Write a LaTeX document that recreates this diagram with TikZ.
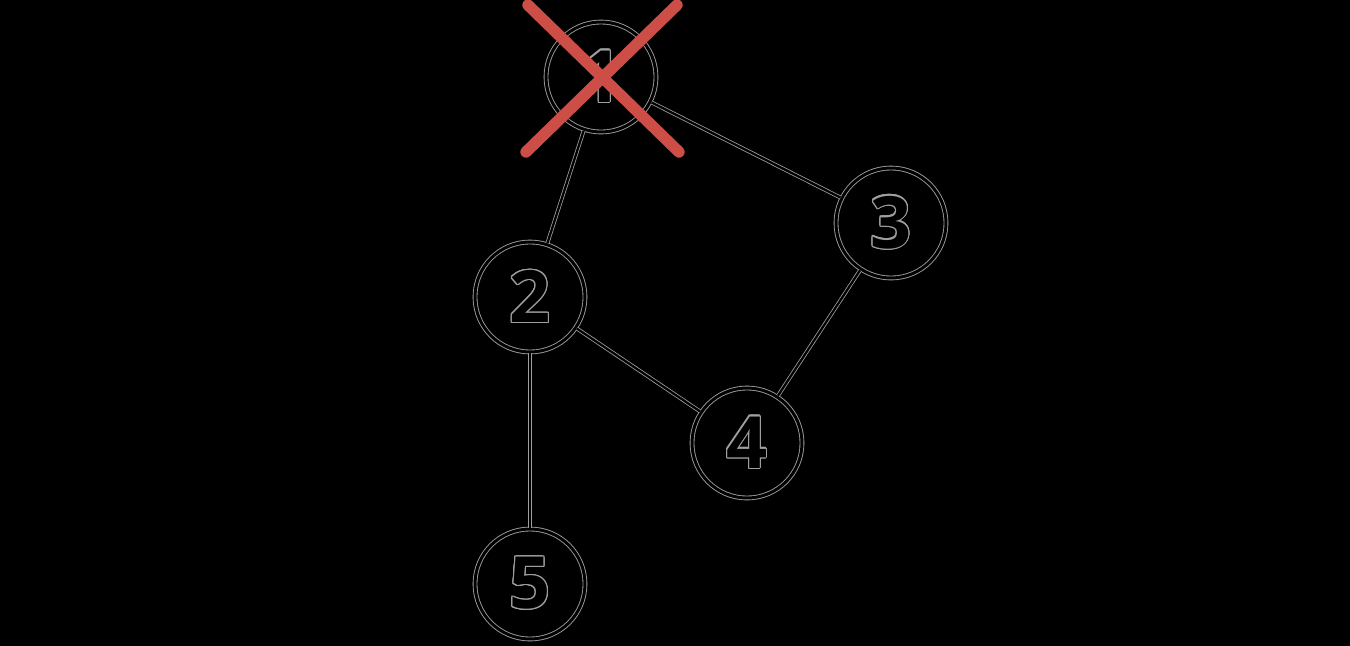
\documentclass[tikz,border=0pt]{standalone}
\usepackage{fontspec}
\setmainfont{Open Sans}
\usepackage[copies]{contour}
\contourlength{0.7pt}
\contournumber{16}
\tikzset{
  vertex/.style={circle, draw=black, line width=1.7pt, minimum size=2.2cm, inner sep=0pt,
    preaction={draw=gray!75, line width=2.7pt},
    font=\fontsize{41}{41}\selectfont\bfseries},
  edge/.style={draw=black, line width=1.3pt, preaction={draw=gray!75, line width=2.2pt}},
  cross/.style={line width=6.5pt, line cap=round}
}
\newcommand{\lbl}[1]{\contour{gray!75}{#1}}
\begin{document}
\begin{tikzpicture}[x=0.02cm,y=-0.02cm]
  % nen
  \fill[black] (0,0) rectangle (1350,646);
  \useasboundingbox (0,0) rectangle (1350,646);
  % cac dinh
  \node[vertex] (n1) at (601,77) {\lbl{1}};
  \node[vertex] (n2) at (530,297) {\lbl{2}};
  \node[vertex] (n3) at (891,223) {\lbl{3}};
  \node[vertex] (n4) at (747,443) {\lbl{4}};
  \node[vertex] (n5) at (530,584) {\lbl{5}};
  % cac canh
  \foreach \a/\b in {n1/n2, n1/n3, n2/n4, n3/n4, n2/n5} {
    \draw[edge] (\a) -- (\b);
  }
  % dau gach cheo tren dinh 1
  \coordinate (c1) at (528,5);
  \coordinate (c2) at (679,152);
  \coordinate (c3) at (677,5);
  \coordinate (c4) at (526,152);
  \draw[cross, draw={rgb,255:red,205;green,78;blue,70}] (c1) -- (c2) (c3) -- (c4);
\end{tikzpicture}
\end{document}
